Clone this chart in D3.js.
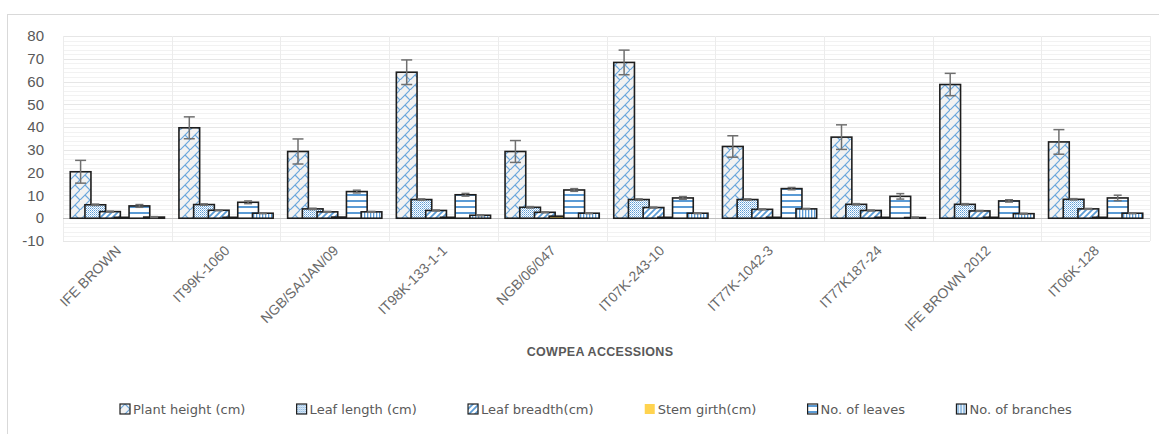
<!DOCTYPE html>
<html>
<head>
<meta charset="utf-8">
<script src="https://cdn.jsdelivr.net/npm/d3@7"></script>
<style>
  body { margin: 0; background: #fff; }
  svg { display: block; }
</style>
</head>
<body>
<div class="graph"></div>
<script>
const width = 1159;
const height = 434;
const plot = {left: 63, right: 1150, top: 36, bottom: 241};

const categories = ['IFE BROWN', 'IT99K-1060', 'NGB/SA/JAN/09', 'IT98K-133-1-1', 'NGB/06/047',
                    'IT07K-243-10', 'IT77K-1042-3', 'IT77K187-24', 'IFE BROWN 2012', 'IT06K-128'];
const seriesNames = ['Plant height (cm)', 'Leaf length (cm)', 'Leaf breadth(cm)',
                     'Stem girth(cm)', 'No. of leaves', 'No. of branches'];
const plantHeight = [20.4, 39.7, 29.3, 64.1, 29.3, 68.4, 31.5, 35.6, 58.7, 33.5];
const leafLength  = [5.9, 6.0, 4.1, 8.2, 4.8, 8.2, 8.2, 6.1, 6.1, 8.3];
const leafBreadth = [2.9, 3.5, 2.8, 3.4, 2.6, 4.7, 3.9, 3.4, 3.2, 4.1];
const stemGirth   = [0.4, 0.4, 0.5, 0.4, 0.9, 0.4, 0.4, 0.4, 0.4, 0.4];
const leaves      = [5.4, 7.0, 11.7, 10.3, 12.4, 8.9, 13.0, 9.6, 7.6, 8.9];
const branches    = [0.5, 2.2, 2.8, 1.3, 2.2, 2.2, 4.1, 0.3, 2.0, 2.2];
const plantHeightErr = [5.0, 4.8, 5.5, 5.4, 4.8, 5.4, 4.7, 5.4, 4.9, 5.4];
const leafLengthErr  = [0.3, 0.3, 0.3, 0.3, 0.3, 0.3, 0.3, 0.3, 0.3, 0.3];
const leafBreadthErr = [0.2, 0.2, 0.2, 0.2, 0.2, 0.2, 0.2, 0.2, 0.2, 0.2];
const stemGirthErr   = [0, 0, 0, 0, 0, 0, 0, 0, 0, 0];
const leavesErr      = [0.6, 0.6, 0.6, 0.6, 0.6, 0.6, 0.5, 1.2, 0.5, 1.2];
const branchesErr    = [0.2, 0.2, 0.2, 0.2, 0.2, 0.2, 0.2, 0.2, 0.2, 0.2];
const yTicks = [-10, 0, 10, 20, 30, 40, 50, 60, 70, 80];

const values = [plantHeight, leafLength, leafBreadth, stemGirth, leaves, branches];
const errors = [plantHeightErr, leafLengthErr, leafBreadthErr, stemGirthErr, leavesErr, branchesErr];
const fills = ['url(#p0)', 'url(#p1)', 'url(#p2)', '#ffd34f', 'url(#p4)', 'url(#p5)'];

const svg = d3.select('.graph').append('svg')
  .attr('width', width)
  .attr('height', height);

// patterns (excel-like hatch fills)
const blue = '#5b9bd5';
const defs = svg.append('defs');
const pat = (id, size, bg) => {
  const p = defs.append('pattern').attr('id', id)
    .attr('patternUnits', 'userSpaceOnUse')
    .attr('width', size).attr('height', size);
  p.append('rect').attr('width', size).attr('height', size).attr('fill', bg);
  return p;
}
// diagonal brick
let p = pat('p0', 10, '#f2f2f2');
p.append('path').attr('d', 'M-1,11 L11,-1 M5,5 L10,10')
  .attr('stroke', '#6aa6dc').attr('stroke-width', 1.2).attr('fill', 'none');
// fine dotted
p = pat('p1', 2, '#ffffff');
p.append('rect').attr('width', 1).attr('height', 1).attr('fill', blue);
p.append('rect').attr('x', 1).attr('y', 1).attr('width', 1).attr('height', 1).attr('fill', '#9cc3e8');
// wide upward diagonal
p = pat('p2', 6, '#ffffff');
p.append('path').attr('d', 'M-1,7 L7,-1 M-1,1 L1,-1 M5,7 L7,5')
  .attr('stroke', blue).attr('stroke-width', 1.8);
// horizontal stripes
p = pat('p4', 6, '#ffffff');
p.append('rect').attr('y', 2).attr('width', 6).attr('height', 2).attr('fill', blue);
// vertical stripes
p = pat('p5', 3, '#ffffff');
p.append('rect').attr('x', 1).attr('width', 1.3).attr('height', 3).attr('fill', blue);

// outer chart border
svg.append('rect')
  .attr('x', 7.5).attr('y', 14.5)
  .attr('width', 1300).attr('height', 600)
  .attr('fill', 'none').attr('stroke', '#d9d9d9');

const x = d3.scaleBand()
  .domain(categories)
  .range([plot.left, plot.right])
  .padding(0);

const y = d3.scaleLinear()
  .domain([-10, 80])
  .range([plot.bottom, plot.top]);

// bar geometry inside a category: gap 70%, overlap 29%
const bw = x.bandwidth();
const barW = bw / (1 + 5 * (1 - 0.29) + 0.7);
const step = barW * (1 - 0.29);
const xi = d3.scaleLinear().domain([0, 5]).range([barW * 0.35, barW * 0.35 + 5 * step]);

// gridlines
const minor = d3.range(-10, 81, 2);
svg.append('g').selectAll('line').data(minor).join('line')
  .attr('x1', plot.left).attr('x2', plot.right)
  .attr('y1', d => Math.round(y(d)) + 0.5).attr('y2', d => Math.round(y(d)) + 0.5)
  .attr('stroke', d => d % 10 === 0 ? '#e6e6e6' : '#f2f2f2')
  .attr('stroke-width', 1);

svg.append('g').selectAll('line').data(categories.concat(['__end'])).join('line')
  .attr('x1', d => Math.round(d === '__end' ? plot.right : x(d)) + 0.5)
  .attr('x2', d => Math.round(d === '__end' ? plot.right : x(d)) + 0.5)
  .attr('y1', plot.top).attr('y2', plot.bottom)
  .attr('stroke', '#ececec');

// zero axis line
svg.append('line')
  .attr('x1', plot.left).attr('x2', plot.right)
  .attr('y1', Math.round(y(0)) + 0.5).attr('y2', Math.round(y(0)) + 0.5)
  .attr('stroke', '#bfbfbf').attr('stroke-width', 1.2);

// y tick labels
svg.append('g').selectAll('text').data(yTicks).join('text')
  .attr('x', 44)
  .attr('y', d => y(d))
  .attr('dy', '0.35em')
  .attr('text-anchor', 'end')
  .style('font-family', 'Liberation Sans, Arial, sans-serif')
  .style('font-size', '15px')
  .style('fill', '#595959')
  .text(d => d);

// bars
values.forEach((vals, s) => {
  svg.append('g').selectAll('rect').data(vals).join('rect')
    .attr('x', (d, i) => x(categories[i]) + xi(s))
    .attr('y', d => y(Math.max(d, 0)))
    .attr('width', barW)
    .attr('height', d => Math.abs(y(d) - y(0)))
    .attr('fill', fills[s])
    .attr('stroke', '#1e1e1e')
    .attr('stroke-width', 1.6);
});

// error bars
values.forEach((vals, s) => {
  const g = svg.append('g').attr('stroke', '#6f6f6f').attr('stroke-width', 1.5);
  vals.forEach((v, i) => {
    const e = errors[s][i];
    if (!e) return;
    const cx = x(categories[i]) + xi(s) + barW / 2;
    const cap = s === 0 ? 5.5 : 4;
    g.append('line').attr('x1', cx).attr('x2', cx).attr('y1', y(v - e)).attr('y2', y(v + e));
    g.append('line').attr('x1', cx - cap).attr('x2', cx + cap).attr('y1', y(v + e)).attr('y2', y(v + e));
    g.append('line').attr('x1', cx - cap).attr('x2', cx + cap).attr('y1', y(v - e)).attr('y2', y(v - e));
  });
});

// x labels
svg.append('g').selectAll('text').data(categories).join('text')
  .attr('transform', d => `translate(${x(d) + bw / 2 + 1}, ${plot.bottom + 7}) rotate(-45)`)
  .attr('text-anchor', 'end')
  .attr('dy', '0.35em')
  .style('font-family', 'Liberation Sans, Arial, sans-serif')
  .style('font-size', '14px')
  .style('fill', '#6a6a6a')
  .text(d => d);

// axis title
svg.append('text')
  .attr('x', 600).attr('y', 356)
  .attr('text-anchor', 'middle')
  .style('font-family', 'Liberation Sans, Arial, sans-serif')
  .style('font-size', '12.5px')
  .style('letter-spacing', '0.3px')
  .style('font-weight', 'bold')
  .style('fill', '#595959')
  .text('COWPEA ACCESSIONS');

// legend
const legend = svg.append('g');
const items = legend.selectAll('g').data(seriesNames).join('g');
items.append('rect')
  .attr('width', 10).attr('height', 10).attr('y', -5)
  .attr('fill', (d, i) => fills[i])
  .attr('stroke', (d, i) => i === 3 ? 'none' : '#1e1e1e')
  .attr('stroke-width', 1.2);
items.append('text')
  .attr('x', 13).attr('dy', '0.35em')
  .style('font-family', 'DejaVu Sans, sans-serif')
  .style('font-size', '13px')
  .style('fill', '#595959')
  .text(d => d);
const widths = [];
items.each(function() { widths.push(this.getBBox().width); });
const totalText = d3.sum(widths);
const legendLeft = 120, legendRight = 1072;
const gap = (legendRight - legendLeft - totalText) / (seriesNames.length - 1);
let cur = legendLeft;
items.attr('transform', (d, i) => {
  const t = `translate(${cur}, 409)`;
  cur += widths[i] + gap;
  return t;
});
</script>
</body>
</html>
